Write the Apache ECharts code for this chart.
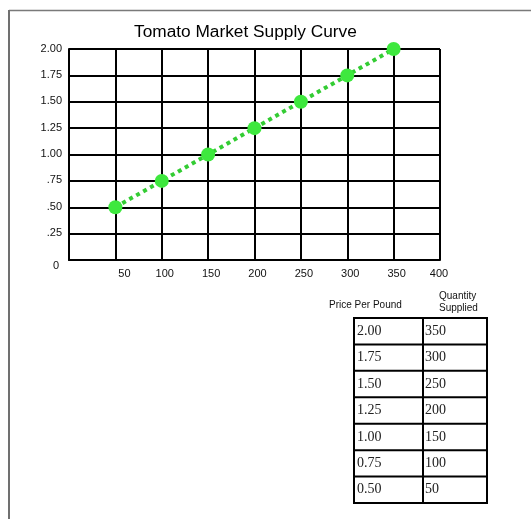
<!DOCTYPE html>
<html>
<head>
<meta charset="utf-8">
<script src="https://cdn.jsdelivr.net/npm/echarts@6/dist/echarts.min.js"></script>
<style>
  html, body { margin: 0; padding: 0; background: #fff; }
  #chart { width: 531px; height: 519px; }
</style>
</head>
<body>
<div id="chart"></div>
<script>
// ---- Data ----
const titleText = 'Tomato Market Supply Curve';
const quantities = [50, 100, 150, 200, 250, 300, 350];
const prices = [0.50, 0.75, 1.00, 1.25, 1.50, 1.75, 2.00];
const yTickLabels = { '0': '0', '0.25': '.25', '0.5': '.50', '0.75': '.75', '1': '1.00', '1.25': '1.25', '1.5': '1.50', '1.75': '1.75', '2': '2.00' };
const xTickLabels = { '0': '', '50': '50', '100': '100', '150': '150', '200': '200', '250': '250', '300': '300', '350': '350', '400': '400' };
const tableHeaderPrice = 'Price Per Pound';
const tableHeaderQty = ['Quantity', 'Supplied'];
const tablePrices = ['2.00', '1.75', '1.50', '1.25', '1.00', '0.75', '0.50'];
const tableQty = ['350', '300', '250', '200', '150', '100', '50'];

// ---- Chart ----
const chart = echarts.init(document.getElementById('chart'), null, { renderer: 'canvas' });

const sans = 'Arial, "Liberation Sans", Helvetica, sans-serif';
const serif = '"Times New Roman", "Liberation Serif", serif';

// table layout
const tL = 354, tM = 423, tR = 487, tTop = 318, tBot = 503;
const rowH = (tBot - tTop) / tablePrices.length;
const tableEls = [];
tableEls.push({ type: 'rect', shape: { x: tL, y: tTop, width: tR - tL, height: tBot - tTop }, style: { fill: '#fff', stroke: '#000', lineWidth: 2 } });
for (let i = 1; i < tablePrices.length; i++) {
  const y = tTop + i * rowH;
  tableEls.push({ type: 'line', shape: { x1: tL, y1: y, x2: tR, y2: y }, style: { stroke: '#000', lineWidth: 2 } });
}
tableEls.push({ type: 'line', shape: { x1: tM, y1: tTop, x2: tM, y2: tBot }, style: { stroke: '#000', lineWidth: 2 } });
tablePrices.forEach((p, i) => {
  const cy = tTop + (i + 0.5) * rowH;
  tableEls.push({ type: 'text', style: { x: tL + 3, y: cy, text: p, font: '14px ' + serif, fill: '#222', textVerticalAlign: 'middle', textAlign: 'left' } });
  tableEls.push({ type: 'text', style: { x: tM + 2, y: cy, text: tableQty[i], font: '14px ' + serif, fill: '#222', textVerticalAlign: 'middle', textAlign: 'left' } });
});
tableEls.push({ type: 'text', style: { x: 329, y: 305, text: tableHeaderPrice, font: '10px ' + sans, fill: '#111', textVerticalAlign: 'middle', textAlign: 'left' } });
tableEls.push({ type: 'text', style: { x: 439, y: 296, text: tableHeaderQty[0], font: '10px ' + sans, fill: '#111', textVerticalAlign: 'middle', textAlign: 'left' } });
tableEls.push({ type: 'text', style: { x: 439, y: 308, text: tableHeaderQty[1], font: '10px ' + sans, fill: '#111', textVerticalAlign: 'middle', textAlign: 'left' } });

// outer frame
tableEls.push({ type: 'line', shape: { x1: 9, y1: 10.5, x2: 531, y2: 10.5 }, style: { stroke: '#7a7a7a', lineWidth: 1.5 } });
tableEls.push({ type: 'line', shape: { x1: 9, y1: 10, x2: 9, y2: 519 }, style: { stroke: '#707070', lineWidth: 2 } });

const option = {
  backgroundColor: '#fff',
  animation: false,
  title: {
    text: titleText,
    left: 134,
    top: 24,
    padding: 0,
    textStyle: { fontFamily: sans, fontSize: 17.3, fontWeight: 'normal', color: '#000' }
  },
  grid: { left: 69, top: 49, width: 371, height: 211, containLabel: false },
  xAxis: {
    type: 'value',
    min: 0, max: 400, interval: 50,
    axisLine: { show: true, onZero: false, lineStyle: { color: '#000', width: 2 } },
    axisTick: { show: false },
    splitLine: { show: true, lineStyle: { color: '#000', width: 2 } },
    axisLabel: {
      margin: 8,
      fontFamily: sans, fontSize: 11, color: '#111',
      showMinLabel: true, showMaxLabel: true,
      formatter: v => {
        const t = xTickLabels[String(v)];
        if (!t) return '';
        const k = v === 50 ? 'b' : (v === 400 ? 'c' : 'a');
        return '{' + k + '|' + t + '}';
      },
      rich: {
        a: { fontFamily: sans, fontSize: 11, color: '#111', padding: [0, 0, 0, 6] },
        b: { fontFamily: sans, fontSize: 11, color: '#111', padding: [0, 0, 0, 18] },
        c: { fontFamily: sans, fontSize: 11, color: '#111', padding: [0, 2, 0, 0] }
      }
    }
  },
  yAxis: {
    type: 'value',
    min: 0, max: 2, interval: 0.25,
    axisLine: { show: true, onZero: false, lineStyle: { color: '#000', width: 2 } },
    axisTick: { show: false },
    splitLine: { show: true, lineStyle: { color: '#000', width: 2 } },
    axisLabel: {
      margin: 7,
      fontFamily: sans, fontSize: 11, color: '#111',
      showMinLabel: true, showMaxLabel: true,
      formatter: v => {
        const key = String(Math.round(v * 100) / 100);
        const t = yTickLabels[key] || '';
        return v === 0 ? '{z|' + t + '}' : '{a|' + t + '}';
      },
      rich: {
        a: { fontFamily: sans, fontSize: 11, color: '#111', padding: [0, 0, 1, 0] },
        z: { fontFamily: sans, fontSize: 11, color: '#111', padding: [12, 3, 0, 0] }
      }
    }
  },
  series: [{
    type: 'line',
    data: quantities.map((q, i) => [q, prices[i]]),
    symbol: 'circle',
    symbolSize: 14,
    lineStyle: { color: '#33cc33', width: 4, type: 'dotted' },
    itemStyle: { color: '#3ee83e', opacity: 1 },
    z: 5
  }],
  graphic: tableEls
};
chart.setOption(option);
</script>
</body>
</html>
